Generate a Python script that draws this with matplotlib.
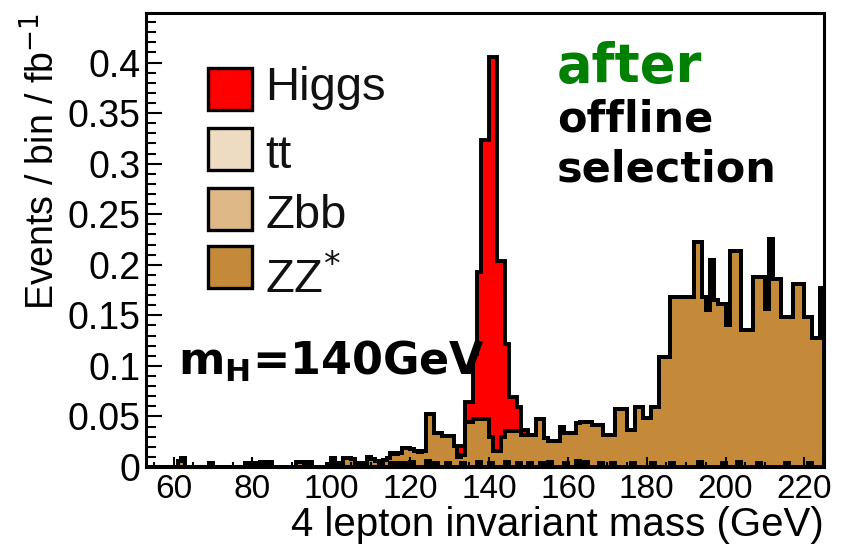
import numpy as np
import matplotlib.pyplot as plt
from matplotlib.patches import Rectangle
from matplotlib.ticker import MultipleLocator, FuncFormatter

plt.rcParams['font.family'] = ['Liberation Sans', 'DejaVu Sans']
plt.rcParams['mathtext.fontset'] = 'dejavusans'

# 1 GeV bins of the 4-lepton invariant mass
mass_edges = np.arange(53, 226)

# ZZ* background, one value per bin starting at 53 GeV
zz = [
    0, 0, 0, 0, 0, 0, 0, 0, 0.006, 0.009,
    0, 0, 0, 0, 0, 0, 0.004, 0, 0, 0,
    0, 0, 0, 0, 0, 0.004, 0.004, 0.004, 0, 0.005,
    0.004, 0.005, 0, 0, 0, 0, 0, 0, 0.005, 0.005,
    0.004, 0.005, 0, 0, 0, 0, 0.003, 0.009, 0.004, 0,
    0.009, 0.009, 0.008, 0.004, 0, 0.004, 0.010, 0.008, 0.006, 0.003,
    0.007, 0.009, 0.010, 0.013, 0.010, 0.015, 0.019, 0.013, 0.016, 0.015,
    0.016, 0.046, 0.052, 0.030, 0.034, 0.031, 0.027, 0.031, 0.021, 0.010,
    0.008, 0.044, 0.044, 0.047, 0.042, 0.047, 0.047, 0.026, 0.016, 0.016,
    0.030, 0.031, 0.036, 0.036, 0.032, 0.032, 0.032, 0.028, 0.032, 0.047,
    0.043, 0.029, 0.021, 0.026, 0.026, 0.040, 0.030, 0.034, 0.034, 0.037,
    0.044, 0.039, 0.044, 0.042, 0.042, 0.038, 0.032, 0.032, 0.028, 0.057,
    0.057, 0.057, 0.037, 0.033, 0.059, 0.059, 0.048, 0.048, 0.055, 0.059,
    0.109, 0.109, 0.109, 0.164, 0.168, 0.168, 0.168, 0.168, 0.168, 0.222,
    0.217, 0.168, 0.155, 0.205, 0.165, 0.161, 0.157, 0.140, 0.214, 0.214,
    0.209, 0.135, 0.135, 0.135, 0.188, 0.184, 0.188, 0.156, 0.225, 0.186,
    0.186, 0.148, 0.144, 0.148, 0.181, 0.181, 0.181, 0.148, 0.144, 0.128,
    0.128, 0.177,
]

# Zbb and tt only fill a few bins (lower bin edge in GeV)
zbb_bins = [112, 115, 118, 120, 124, 126, 129, 133, 137, 140, 144, 147, 150, 155,
            159, 162, 164, 168, 171, 176, 181, 186, 193, 199, 203, 208, 215, 221]
zbb_vals = [0.003, 0.004, 0.004, 0.005, 0.006, 0.004, 0.004, 0.004, 0.005, 0.004,
            0.005, 0.004, 0.004, 0.005, 0.004, 0.006, 0.005, 0.004, 0.004, 0.004,
            0.004, 0.004, 0.005, 0.004, 0.005, 0.004, 0.004, 0.004]
tt_bins = [117, 153]
tt_vals = [0.004, 0.004]

# Higgs signal, mH = 140 GeV
higgs_bins = [132, 133, 134, 135, 136, 137, 138, 139, 140,
              141, 142, 143, 144, 145, 146, 147, 148, 149]
higgs_vals = [0.011, 0.009, 0.020, 0.020, 0.065, 0.146, 0.276, 0.276, 0.375,
              0.389, 0.188, 0.174, 0.086, 0.033, 0.033, 0.023, 0.005, 0.005]

col_higgs = '#ff0000'
col_tt = '#eedcc2'
col_zbb = '#deb887'
col_zz = '#c48a3a'


def fill_bins(lo_edges, vals):
    arr = np.zeros(len(mass_edges) - 1)
    arr[np.searchsorted(mass_edges, lo_edges)] = vals
    return arr


layers = [
    (fill_bins(tt_bins, tt_vals), col_tt),
    (fill_bins(zbb_bins, zbb_vals), col_zbb),
    (np.array(zz), col_zz),
    (fill_bins(higgs_bins, higgs_vals), col_higgs),
]

fig = plt.figure(figsize=(8.41, 5.47), dpi=100)
ax = fig.add_axes([0.1736, 0.1463, 0.8064, 0.8300])

# stacked histogram, thick black outline on every layer
bottom = np.zeros(len(mass_edges) - 1)
for vals, col in layers:
    top = bottom + vals
    ax.stairs(top, mass_edges, baseline=bottom, fill=True,
              facecolor=col, edgecolor='black', linewidth=2.8, joinstyle='miter')
    bottom = top

ax.set_xlim(53, 225)
ax.set_ylim(0, 0.449)

ax.xaxis.set_major_locator(MultipleLocator(20))
ax.xaxis.set_minor_locator(MultipleLocator(5))
ax.yaxis.set_major_locator(MultipleLocator(0.05))
ax.yaxis.set_minor_locator(MultipleLocator(0.01))
ax.yaxis.set_major_formatter(FuncFormatter(lambda v, p: '%g' % round(v, 3)))

ax.tick_params(axis='both', which='both', direction='in', width=1.5, colors='black')
ax.tick_params(axis='x', which='major', length=7, labelsize=24, pad=5)
ax.tick_params(axis='x', which='minor', length=3.6)
ax.tick_params(axis='y', which='major', length=11.5, labelsize=27, pad=4)
ax.tick_params(axis='y', which='minor', length=7)
for s in ax.spines.values():
    s.set_linewidth(2.2)

ax.set_xlabel('4 lepton invariant mass (GeV)', fontsize=29, loc='right', labelpad=1)
ax.set_ylabel('Events / bin / fb$^{-1}$', fontsize=27, loc='top', labelpad=4)

# legend boxes and labels
legend_rows = [
    ('Higgs', col_higgs, 0.786, 0.808),
    ('tt', col_tt, 0.654, 0.659),
    ('Zbb', col_zbb, 0.522, 0.526),
    ('ZZ$^{*}$', col_zz, 0.394, 0.383),
]
for label, col, ybox, ytext in legend_rows:
    ax.add_patch(Rectangle((0.091, ybox), 0.066, 0.093, transform=ax.transAxes,
                           facecolor=col, edgecolor='black', linewidth=2.4, zorder=5))
    ax.text(0.176, ytext, label, transform=ax.transAxes, fontsize=34,
            color='#111111', va='baseline', ha='left', zorder=5)

bold_font = ['DejaVu Sans']
ax.text(0.606, 0.848, 'after', transform=ax.transAxes, fontsize=38, color='#008000',
        fontweight='bold', family=bold_font, va='baseline')
ax.text(0.606, 0.738, 'offline', transform=ax.transAxes, fontsize=31,
        fontweight='bold', family=bold_font, va='baseline')
ax.text(0.606, 0.628, 'selection', transform=ax.transAxes, fontsize=31,
        fontweight='bold', family=bold_font, va='baseline')
ax.text(0.047, 0.203, r'm$_\mathbf{H}$=140GeV', transform=ax.transAxes, fontsize=32,
        fontweight='bold', family=bold_font, va='baseline')

fig.savefig('out.png', dpi=100)
